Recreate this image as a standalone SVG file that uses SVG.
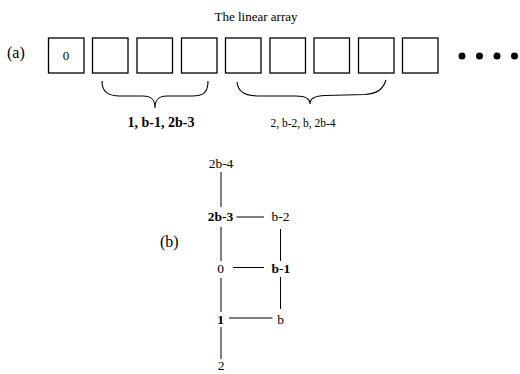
<svg xmlns="http://www.w3.org/2000/svg" width="520" height="374" viewBox="0 0 520 374">
<style>
text{font-family:"Liberation Serif","Times New Roman",serif;fill:#000}
.box{fill:#fff;stroke:#000;stroke-width:1.3}
.ln{stroke:#000;stroke-width:1;fill:none}
.br{stroke:#000;stroke-width:1.1;fill:none}
.nd{font-size:13.5px;text-anchor:middle}
.b{font-weight:bold}
</style>
<rect width="520" height="374" fill="#fff"/>
<text x="256" y="21" font-size="13" text-anchor="middle">The linear array</text>
<text x="7" y="58" font-size="16">(a)</text>
<g id="array">
<rect class="box" x="48.5" y="38" width="35.5" height="35"/>
<text x="66" y="60" font-size="13" text-anchor="middle">0</text>
<rect class="box" x="92.5" y="38" width="35.5" height="35"/>
<rect class="box" x="137" y="38" width="35.5" height="35"/>
<rect class="box" x="181.5" y="38" width="35.5" height="35"/>
<rect class="box" x="225.5" y="38" width="35.5" height="35"/>
<rect class="box" x="270" y="38" width="35.5" height="35"/>
<rect class="box" x="314" y="38" width="35.5" height="35"/>
<rect class="box" x="358.5" y="38" width="35.5" height="35"/>
<rect class="box" x="402.5" y="38" width="35.5" height="35"/>
<circle cx="462" cy="56" r="3.5"/>
<circle cx="479.5" cy="56" r="3.5"/>
<circle cx="497" cy="56" r="3.5"/>
<circle cx="514.5" cy="56" r="3.5"/>
</g>
<g id="braces">
<path class="br" d="M102,81 C102,92 108,96 120,96 L143,96 C151,96 155,99 155,108 C155,99 159,96 167,96 L192,96 C204,96 208,92 208,81"/>
<path class="br" d="M237,82 C238,92 245,96 260,96 L296,96 C305,96 310,98 310,104 C310,98 315,96 325,95.5 L365,94.5 C378,93.5 383,89 386,80"/>
<text x="161" y="127" font-size="14" class="b" text-anchor="middle">1, b-1, 2b-3</text>
<text x="303" y="127" font-size="11.5" text-anchor="middle">2, b-2, b, 2b-4</text>
</g>
<text x="160" y="247" font-size="16">(b)</text>
<g id="connectors">
<line class="ln" x1="221" y1="172" x2="221" y2="207"/>
<line class="ln" x1="236.5" y1="217" x2="264" y2="217"/>
<line class="ln" x1="221" y1="227" x2="221" y2="261"/>
<line class="ln" x1="280.5" y1="229" x2="280.5" y2="261"/>
<line class="ln" x1="233" y1="267.5" x2="264" y2="267.5"/>
<line class="ln" x1="221" y1="278" x2="221" y2="312"/>
<line class="ln" x1="280.5" y1="277" x2="280.5" y2="309"/>
<line class="ln" x1="229" y1="318" x2="272.5" y2="318"/>
<line class="ln" x1="221" y1="327" x2="221" y2="359"/>
</g>
<g id="n-2b-4"><text class="nd" x="221" y="168">2b-4</text></g>
<g id="n-2b-3"><text class="nd b" x="220.5" y="221">2b-3</text></g>
<g id="n-b-2"><text class="nd" x="280.5" y="221">b-2</text></g>
<g id="n-0"><text class="nd" x="220.5" y="272.5">0</text></g>
<g id="n-b-1"><text class="nd b" x="281" y="272.5">b-1</text></g>
<g id="n-1"><text class="nd b" x="220.5" y="323.5">1</text></g>
<g id="n-b"><text class="nd" x="280.5" y="323.5">b</text></g>
<g id="n-2"><text class="nd" x="221" y="370">2</text></g>
</svg>
